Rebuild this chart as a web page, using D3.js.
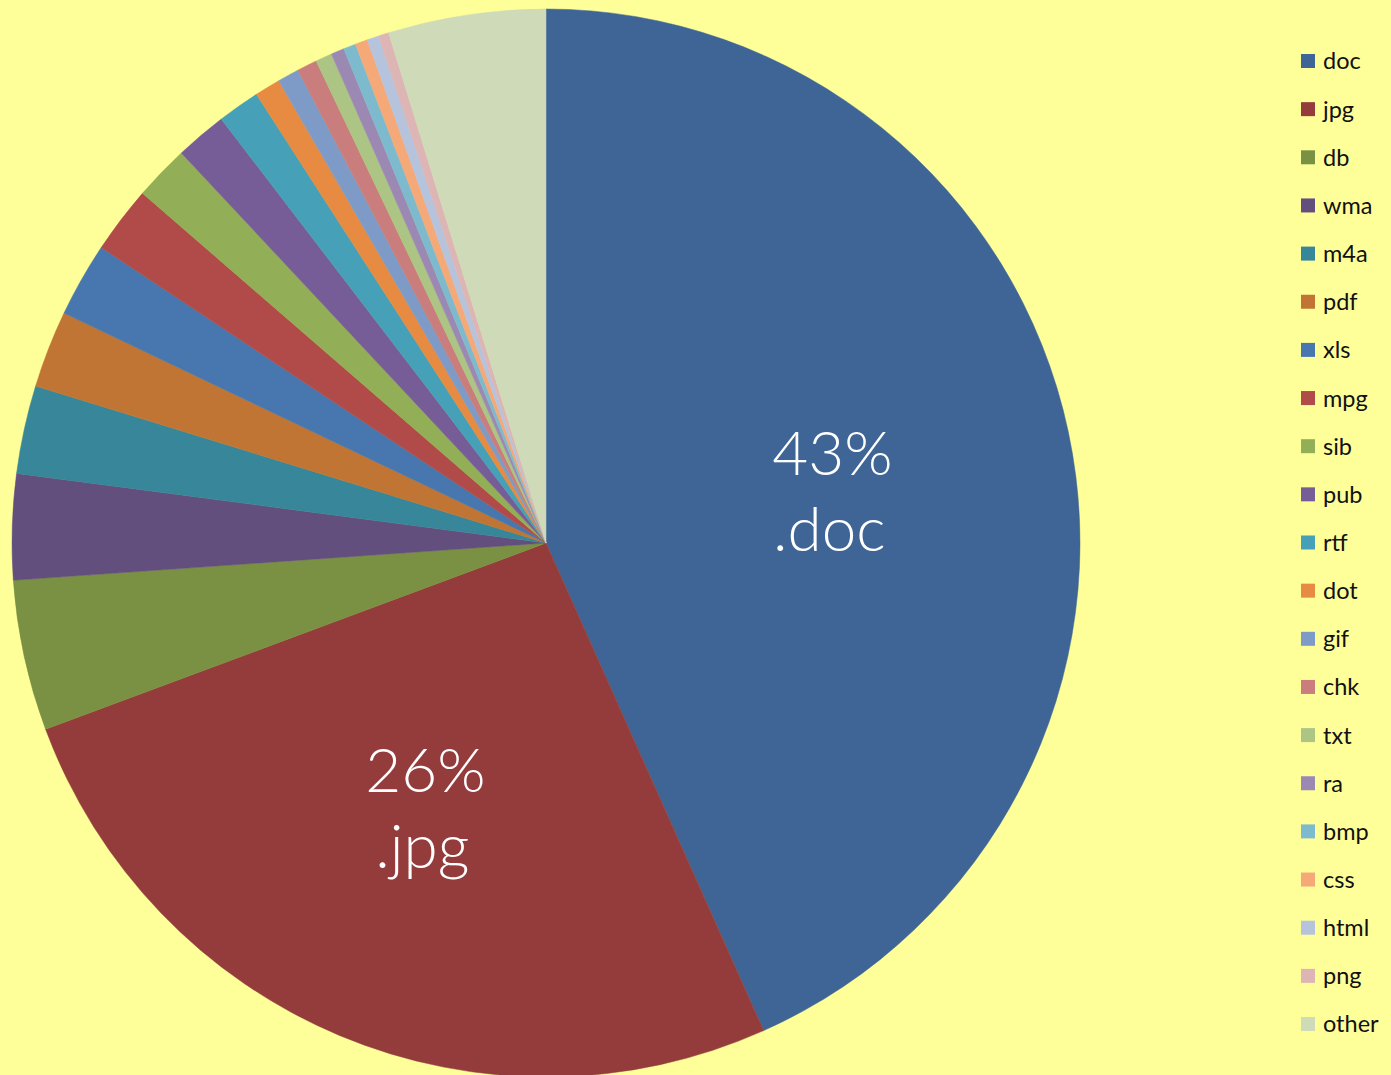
<!DOCTYPE html>
<html lang="en">
<head>
    <meta charset="UTF-8">
    <title>File types</title>
    <script src="https://d3js.org/d3.v7.min.js"></script>
    <style>
        body {
            margin: 0;
            background-color: #ffff99;
        }
        .legend-label {
            font-family: Lato, "Open Sans", sans-serif;
            font-size: 23.5px;
            fill: #111;
        }
        .slice-label {
            font-family: Lato, "Open Sans", sans-serif;
            font-weight: 300;
            font-size: 62px;
            fill: #fff;
        }
    </style>
</head>
<body>
    <svg id="chart" width="1391" height="1075"></svg>
    <script>
        // File type shares (percent), read clockwise from 12 o'clock
        const types = ["doc", "jpg", "db", "wma", "m4a", "pdf", "xls", "mpg", "sib", "pub", "rtf",
            "dot", "gif", "chk", "txt", "ra", "bmp", "css", "html", "png", "other"];
        const shares = [43.3, 26.0, 4.56, 3.19, 2.67, 2.33, 2.25, 2.03, 1.67, 1.56, 1.28,
            0.78, 0.65, 0.61, 0.5, 0.4, 0.375, 0.375, 0.36, 0.31, 4.76];
        const colors = ["#3e6596", "#943c3c", "#7a9144", "#634f7e", "#388699", "#c17534", "#4877af",
            "#b14b4a", "#92ae56", "#775d98", "#46a0b7", "#e68b41", "#7e9ac6", "#c97d7c", "#adc584",
            "#9c89b3", "#7dbacd", "#f5a878", "#b6c3dd", "#ddb5b5", "#cfdab9"];
        // only the two biggest slices carry a label
        const labelled = ["doc", "jpg"];

        const width = 1391;
        const height = 1075;
        const cx = 546, cy = 543, radius = 534;

        const svg = d3.select("#chart");

        const data = types.map((t, i) => ({ type: t, value: shares[i] }));

        const pie = d3.pie()
            .value(d => d.value)
            .sort(null);

        const arc = d3.arc().innerRadius(0).outerRadius(radius);

        const color = d3.scaleOrdinal().domain(types).range(colors);

        const g = svg.append("g").attr("transform", `translate(${cx},${cy})`);

        const arcs = pie(data);

        g.selectAll("path")
            .data(arcs)
            .enter()
            .append("path")
            .attr("d", arc)
            .attr("fill", d => color(d.data.type))
            .attr("stroke", d => color(d.data.type))
            .attr("stroke-width", 0.5);

        // label anchor: a bit past the mid-angle, about half way out
        function labelPos(d) {
            const a = (d.startAngle + d.endAngle) / 2 + 0.03;
            const r = radius * 0.545;
            return [r * Math.sin(a), -r * Math.cos(a)];
        }

        const labels = g.selectAll(".slice-label")
            .data(arcs.filter(d => labelled.includes(d.data.type)))
            .enter()
            .append("text")
            .attr("class", "slice-label")
            .attr("text-anchor", "middle")
            .attr("transform", d => `translate(${labelPos(d)})`);

        labels.append("tspan")
            .attr("x", 0)
            .attr("dy", -16)
            .text(d => Math.round(d.data.value) + "%");

        labels.append("tspan")
            .attr("x", -3)
            .attr("dy", 76)
            .text(d => "." + d.data.type);

        // legend
        const legendY = d3.scalePoint()
            .domain(types)
            .range([61, 1024]);

        const legend = svg.append("g");

        const items = legend.selectAll("g")
            .data(types)
            .enter()
            .append("g")
            .attr("transform", d => `translate(1301,${legendY(d)})`);

        items.append("rect")
            .attr("x", 0)
            .attr("y", -7)
            .attr("width", 14)
            .attr("height", 14)
            .attr("fill", d => color(d));

        items.append("text")
            .attr("class", "legend-label")
            .attr("x", 22)
            .attr("y", 0)
            .attr("dy", "0.36em")
            .text(d => d);
    </script>
</body>
</html>
